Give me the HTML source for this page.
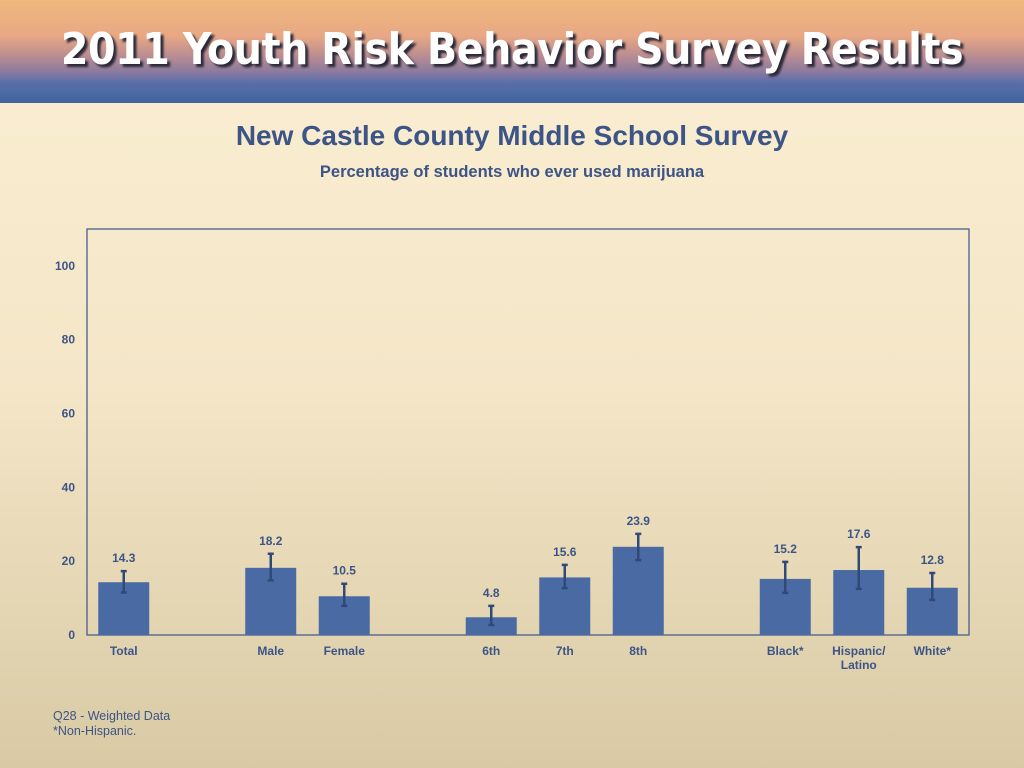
<!DOCTYPE html>
<html><head><meta charset="utf-8"><style>
body{margin:0;width:1024px;height:768px;overflow:hidden;font-family:"Liberation Sans",sans-serif;background:linear-gradient(#fbefd4 0%,#f4e6c7 50%,#d9caa5 100%);position:relative}
#hdr{position:absolute;left:0;top:0;width:1024px;height:103px;background:linear-gradient(#f0b87c 0%,#e8a884 35%,#b88c92 55%,#8a7aa0 70%,#5a6ea8 80%,#3f65a0 100%)}
#hdr-title{position:absolute;left:0;width:1024px;top:24px;text-align:center;color:#fff;font-weight:bold;font-size:44px;letter-spacing:-0.4px;text-shadow:3px 3px 2px #2a2a3a;font-family:"DejaVu Sans Condensed","Liberation Sans Narrow","Liberation Sans",sans-serif}
#title{position:absolute;top:120px;width:1024px;text-align:center;color:#3c5486;font-weight:bold;font-size:28px}
#sub{position:absolute;top:163px;width:1024px;text-align:center;color:#3c5486;font-weight:bold;font-size:16.5px}
#note{position:absolute;left:53px;top:709px;color:#3c5486;font-size:12.5px;line-height:15px}
svg{position:absolute;left:0;top:0}
</style></head><body>
<div id="hdr"><div id="hdr-title">2011 Youth Risk Behavior Survey Results</div></div>
<div id="title">New Castle County Middle School Survey</div>
<div id="sub">Percentage of students who ever used marijuana</div>
<div id="note">Q28 - Weighted Data<br>*Non-Hispanic.</div>
<svg id="chart" width="1024" height="768"></svg>
<script>
const categories=["Total","Male","Female","6th","7th","8th","Black*","Hispanic/|Latino","White*"];
const slots=[0,2,3,5,6,7,9,10,11];
const values=[14.3,18.2,10.5,4.8,15.6,23.9,15.2,17.6,12.8];
const errHigh=[17.3,22.0,13.9,7.9,19.0,27.4,19.8,23.8,16.8];
const errLow=[11.5,14.8,7.9,2.7,12.7,20.3,11.4,12.5,9.5];
const yTicks=[0,20,40,60,80,100];
const NS="http://www.w3.org/2000/svg",svg=document.getElementById('chart');
const L=87,R=969,T=229,B=635,yMax=110,nSlots=12,slotW=(R-L)/nSlots,bw=51;
const y=v=>B-(v/yMax)*(B-T);
const xc=s=>L+slotW*(s+0.5);
function mk(t,a,txt){const e=document.createElementNS(NS,t);for(const k in a)e.setAttribute(k,a[k]);if(txt!=null)e.textContent=txt;svg.appendChild(e);return e;}
const box=mk('rect',{x:L,y:T,width:R-L,height:B-T,fill:'none',stroke:'#3c5486','stroke-width':1.2});


yTicks.forEach(t=>{const e=mk('text',{x:75,y:y(t)+4,'text-anchor':'end','font-size':12,'font-weight':'bold',fill:'#3c5486'},t);

});
values.forEach((v,i)=>{const cx=xc(slots[i]);
const b=mk('rect',{x:cx-bw/2,y:y(v),width:bw,height:B-y(v),fill:'#4a6aa4'});


const eg=mk('path',{d:`M${cx},${y(errHigh[i])}V${y(errLow[i])}M${cx-3},${y(errHigh[i])}H${cx+3}M${cx-3},${y(errLow[i])}H${cx+3}`,stroke:'#2f4a78','stroke-width':2.5,fill:'none'});


const lb=mk('text',{x:cx,y:y(errHigh[i])-9,'text-anchor':'middle','font-size':12,'font-weight':'bold',fill:'#3c5486'},v.toFixed(1));


categories[i].split('|').forEach((p,j)=>{const c=mk('text',{x:cx,y:655+j*14,'text-anchor':'middle','font-size':12,'font-weight':'bold',fill:'#3c5486'},p);

});
});
</script>
</body></html>
